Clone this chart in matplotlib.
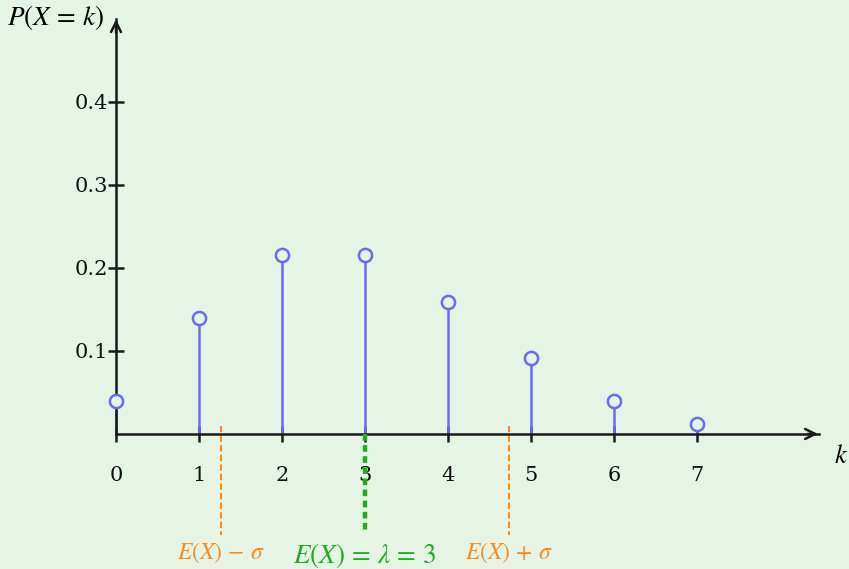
import numpy as np
import matplotlib
matplotlib.use('Agg')
import matplotlib.pyplot as plt

plt.rcParams['mathtext.fontset'] = 'stix'
plt.rcParams['font.family'] = ['DejaVu Serif']

# Poisson distribution, lambda = 3
k_values = [0, 1, 2, 3, 4, 5, 6, 7]
probs = [0.040, 0.140, 0.216, 0.216, 0.159, 0.092, 0.040, 0.012]
lam = 3
sigma = np.sqrt(lam)
y_ticks = [0.1, 0.2, 0.3, 0.4]

bg = '#e6f4e6'
stem_col = '#6a6af4'
orange = '#ff8a1a'
green = '#1ab01a'
axis_col = '#1a1a1a'

fig = plt.figure(figsize=(8.49, 5.69), dpi=100, facecolor=bg)
ax = fig.add_axes([0, 0, 1, 1], facecolor=bg)
ax.set_xlim(-1.398, 8.831)
ax.set_ylim(-0.1627, 0.5229)

# axes through the origin
for side in ['top', 'right']:
    ax.spines[side].set_visible(False)
ax.spines['left'].set_position(('data', 0))
ax.spines['bottom'].set_position(('data', 0))
ax.spines['left'].set_bounds(0, 0.50)
ax.spines['bottom'].set_bounds(0, 8.47)
for side in ['left', 'bottom']:
    ax.spines[side].set_linewidth(1.8)
    ax.spines[side].set_color(axis_col)

ax.annotate('', xy=(8.49, 0), xytext=(8.3, 0),
            arrowprops=dict(arrowstyle='->', lw=1.8, color=axis_col, mutation_scale=18))
ax.annotate('', xy=(0, 0.503), xytext=(0, 0.48),
            arrowprops=dict(arrowstyle='->', lw=1.8, color=axis_col, mutation_scale=18))

ax.set_xticks(k_values)
ax.set_xticklabels([str(k) for k in k_values])
ax.set_yticks(y_ticks)
ax.set_yticklabels([f'{v:.1f}' for v in y_ticks])
ax.tick_params(axis='x', direction='inout', length=12, width=1.8, color=axis_col,
               labelsize=15, pad=17, labelcolor='#111111')
ax.tick_params(axis='y', direction='inout', length=12, width=1.8, color=axis_col,
               labelsize=15, pad=0, labelcolor='#111111')

# stems and hollow markers
ax.vlines(k_values, 0, probs, color=stem_col, lw=1.8, zorder=2)
ax.plot(k_values, probs, 'o', ms=9.5, mfc=bg, mec=stem_col, mew=1.8, zorder=4)

# mean and +/- sigma markers
ax.plot([lam, lam], [0, -0.121], color=green, lw=3.2, ls=(0, (1.5, 1.0)), zorder=5,
        clip_on=False)
for xv in [lam - sigma, lam + sigma]:
    ax.plot([xv, xv], [0.0096, -0.122], color=orange, lw=1.5, ls=(0, (3, 1.6)), zorder=2)

ax.text(lam - sigma, -0.143, r'$E(X)\,-\,\sigma$', color=orange, fontsize=17,
        ha='center', va='center')
ax.text(lam + sigma, -0.143, r'$E(X)\,+\,\sigma$', color=orange, fontsize=17,
        ha='center', va='center')
ax.text(lam, -0.146, r'$E(X)\,=\,\lambda\,=\,3$', color=green, fontsize=19.5,
        ha='center', va='center')

ax.text(8.73, -0.026, r'$k$', fontsize=19, ha='center', va='center')
ax.text(-0.14, 0.502, r'$P(X\,=\,k)$', fontsize=19.5, ha='right', va='center')

fig.savefig('out.png', dpi=100, facecolor=bg)
